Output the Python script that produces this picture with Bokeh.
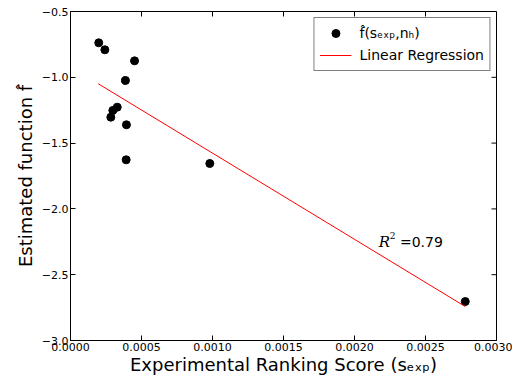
from bokeh.plotting import figure
from bokeh.models import (LinearAxis, Range1d, FixedTicker, Legend, LegendItem,
                          ColumnDataSource)
from bokeh.core.properties import value
from bokeh.embed import file_html
from bokeh.resources import INLINE

# data
s_exp = [0.000199, 0.000242, 0.000451, 0.000387, 0.000329, 0.000298,
         0.000284, 0.000394, 0.000392, 0.000981, 0.002780]
f_hat = [-0.738, -0.791, -0.875, -1.024, -1.227, -1.252,
         -1.303, -1.361, -1.627, -1.655, -2.704]
reg_x = [0.000195, 0.002780]
reg_y = [-1.049, -2.742]
r2_label = "=0.79"
r2_pos = (0.00217, -2.248)
r2_val_x = 0.00232

x_ticks = [0.0, 0.0005, 0.0010, 0.0015, 0.0020, 0.0025, 0.0030]
y_ticks = [-3.0, -2.5, -2.0, -1.5, -1.0, -0.5]
x_min, x_max = 0.0, 0.003
y_min, y_max = -3.0, -0.5

FONT = "DejaVu Sans"

p = figure(width=512, height=380, output_backend="svg", toolbar_location=None,
           x_range=Range1d(x_min, x_max), y_range=Range1d(y_min, y_max),
           x_axis_type=None, y_axis_type=None,
           min_border_left=70, min_border_right=16, min_border_top=11,
           min_border_bottom=40)
p.grid.visible = False
p.outline_line_color = "black"
p.outline_line_width = 1
p.background_fill_color = "white"
p.border_fill_color = "white"


def style_axis(ax):
    ax.major_tick_in = 5
    ax.major_tick_out = 0
    ax.minor_tick_in = 0
    ax.minor_tick_out = 0
    ax.axis_line_color = "black"
    ax.major_tick_line_color = "black"
    ax.major_label_text_font = FONT
    ax.major_label_text_font_size = "11px"
    ax.major_label_text_color = "black"
    ax.major_label_standoff = 2
    ax.axis_label_text_font = FONT
    ax.axis_label_text_font_style = "normal"
    ax.axis_label_text_font_size = "18px"
    ax.axis_label_text_color = "black"


xb = LinearAxis(ticker=FixedTicker(ticks=x_ticks))
xb.major_label_overrides = {t: f"{t:.4f}" for t in x_ticks}
style_axis(xb)
xb.axis_label = "Experimental Ranking Score (sₑₓₚ)"
xb.axis_label_standoff = 0
p.add_layout(xb, "below")

yl = LinearAxis(ticker=FixedTicker(ticks=y_ticks))
yl.major_label_overrides = {t: f"{t:.1f}".replace("-", "\u2212") for t in y_ticks}
style_axis(yl)
yl.axis_label = "Estimated function f\u0302"
yl.axis_label_standoff = 3
p.add_layout(yl, "left")

# inward ticks on the top and right edges (matplotlib classic look)
tick_len_y = (y_max - y_min) * 5 / 329
tick_len_x = (x_max - x_min) * 5 / 426
p.segment(x0=x_ticks, y0=[y_max] * len(x_ticks), x1=x_ticks,
          y1=[y_max - tick_len_y] * len(x_ticks), line_color="black", line_width=1)
p.segment(x0=[x_max] * len(y_ticks), y0=y_ticks, x1=[x_max - tick_len_x] * len(y_ticks),
          y1=y_ticks, line_color="black", line_width=1)

src = ColumnDataSource(dict(x=s_exp, y=f_hat))
pts = p.scatter("x", "y", source=src, size=8, color="black")
line = p.line(reg_x, reg_y, line_color="red", line_width=1)

p.text([r2_pos[0]], [r2_pos[1]], text=["R"], text_font=value("DejaVu Serif"),
       text_font_style="italic", text_font_size="15px", text_baseline="middle",
       text_align="left", text_color="black")
p.text([r2_pos[0]], [r2_pos[1]], text=["2"], text_font=value("DejaVu Serif"),
       text_font_size="9px", text_baseline="middle", text_align="left",
       x_offset=11, y_offset=-6, text_color="black")
p.text([r2_val_x], [r2_pos[1]], text=[r2_label], text_font=value(FONT),
       text_font_size="14px", text_baseline="middle", text_align="left",
       text_color="black")

legend = Legend(items=[LegendItem(label="f\u0302(sₑₓₚ,nₕ)", renderers=[pts]),
                       LegendItem(label="Linear Regression", renderers=[line])],
                location="top_right")
legend.label_text_font = FONT
legend.label_text_font_size = "14px"
legend.label_text_color = "black"
legend.border_line_color = "black"
legend.border_line_width = 1
legend.margin = 6
legend.padding = 5
legend.spacing = 2
legend.glyph_width = 32
legend.glyph_height = 20
legend.label_standoff = 8
p.add_layout(legend, "center")

open("out.html", "w").write(file_html(p, INLINE))
